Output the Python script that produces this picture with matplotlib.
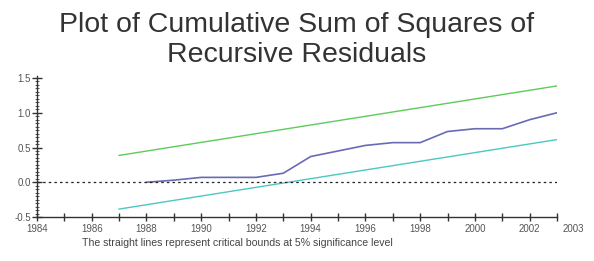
import numpy as np
import matplotlib.pyplot as plt
from matplotlib.ticker import MultipleLocator, FixedLocator
import matplotlib.transforms as mtransforms

# dados
anos_cusum = [1988, 1989, 1990, 1991, 1992, 1993, 1994, 1995,
              1996, 1997, 1998, 1999, 2000, 2001, 2002, 2003]
cusum_sq = [0.0, 0.03, 0.07, 0.07, 0.07, 0.13, 0.37, 0.45,
            0.53, 0.57, 0.57, 0.73, 0.77, 0.77, 0.90, 1.0]

anos_limites = [1987, 2003]
limite_superior = [0.386, 1.386]
limite_inferior = [-0.386, 0.614]

anos_ticks = list(range(1984, 2004))
rotulos_x = [str(a) if (a % 2 == 0 or a == 2003) else '' for a in anos_ticks]
valores_y = [-0.5, 0.0, 0.5, 1.0, 1.5]

plt.rcParams['font.family'] = ['Liberation Sans', 'DejaVu Sans']

fig = plt.figure(figsize=(5.94, 2.61), dpi=100)
W, H = 594, 261
ax = fig.add_axes([37 / W, 1 - 217 / H, 520 / W, 139 / H])

ax.plot(anos_limites, limite_superior, color='#5ccc5c', lw=1.0)
ax.plot(anos_limites, limite_inferior, color='#4cc8c0', lw=1.0)
ax.plot(anos_cusum, cusum_sq, color='#6a6ab4', lw=1.2)
ax.axhline(0, color='#222222', lw=0.9, ls=(0, (2, 2.5)), xmin=0, xmax=1)

ax.set_xlim(1984, 2003)
ax.set_ylim(-0.5, 1.5)

for s in ['top', 'right']:
    ax.spines[s].set_visible(False)
for s in ['left', 'bottom']:
    ax.spines[s].set_color('#333333')
    ax.spines[s].set_linewidth(1.0)
ax.spines['left'].set_bounds(-0.5, 1.53)

ax.xaxis.set_major_locator(FixedLocator(anos_ticks))
ax.set_xticklabels(rotulos_x)
ax.set_yticks(valores_y)
ax.set_yticklabels(['%.1f' % v for v in valores_y])
ax.yaxis.set_minor_locator(MultipleLocator(0.05))

ax.tick_params(axis='x', direction='inout', length=6, width=1, color='#333333',
               labelsize=7, labelcolor='#555555', pad=2)
ax.tick_params(axis='y', which='major', direction='inout', length=7, width=1,
               color='#333333', labelsize=7, labelcolor='#555555', pad=1)
ax.tick_params(axis='y', which='minor', direction='inout', length=3, width=0.7,
               color='#555555')

# rotulo 2003 deslocado para a direita
lab = ax.get_xticklabels()[-1]
lab.set_transform(lab.get_transform() + mtransforms.ScaledTranslation(16 / 100, 0, fig.dpi_scale_trans))

fig.text(0.5, 1 - 32 / H, 'Plot of Cumulative Sum of Squares of', ha='center', va='baseline',
         fontsize=20.5, color='#333333')
fig.text(0.5, 1 - 62 / H, 'Recursive Residuals', ha='center', va='baseline',
         fontsize=20.5, color='#333333')
fig.text(237 / W, 1 - 243 / H, 'The straight lines represent critical bounds at 5% significance level',
         ha='center', va='center', fontsize=7.6, color='#444444')

fig.savefig('out.png', dpi=100)
